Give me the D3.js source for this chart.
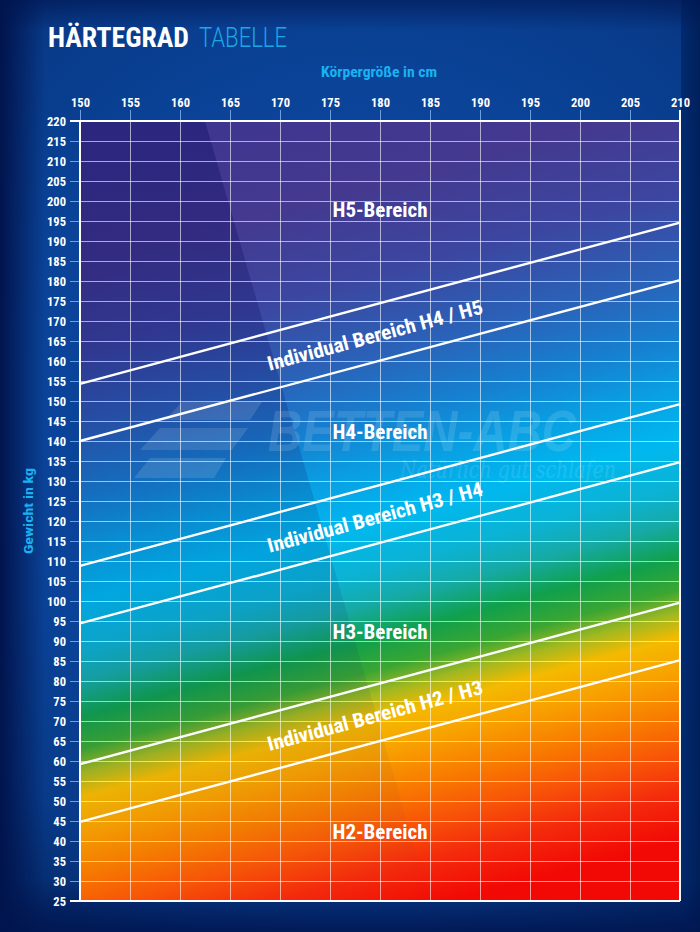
<!DOCTYPE html>
<html><head><meta charset="utf-8">
<script src="https://cdn.jsdelivr.net/npm/d3@7"></script>
<style>html,body{margin:0;padding:0;background:#06307a;} svg{display:block}</style>
</head><body><div id="chart"></div>
<script>
// ---------- data ----------
const heightTicks = [150, 155, 160, 165, 170, 175, 180, 185, 190, 195, 200, 205, 210];
const weightTicks = [25, 30, 35, 40, 45, 50, 55, 60, 65, 70, 75, 80, 85, 90, 95, 100, 105, 110, 115, 120,
                     125, 130, 135, 140, 145, 150, 155, 160, 165, 170, 175, 180, 185, 190, 195, 200, 205, 210, 215, 220];
const boundaryHeights = [150, 210];
const boundaryAt150 = [154.3, 140.0, 108.8, 94.4, 59.2, 44.8];
const boundaryAt210 = [194.6, 180.2, 149.2, 134.7, 99.6, 85.2];
const regionNames = ["H5-Bereich", "H4-Bereich", "H3-Bereich", "H2-Bereich"];
const regionLabelWeight = [196, 140.5, 90.5, 40.5];
const regionLabelHeight = 180;
const individualNames = ["Individual Bereich H4 / H5", "Individual Bereich H3 / H4", "Individual Bereich H2 / H3"];
const individualPairs = [[0, 1], [2, 3], [4, 5]];
const titleBold = "HÄRTEGRAD";
const titleLight = "TABELLE";
const xTitle = "Körpergröße in cm";
const yTitle = "Gewicht in kg";

// ---------- setup ----------
const W = 700, H = 932;
const COND = "'Liberation Sans Narrow','Arial Narrow','Roboto Condensed','Liberation Sans',sans-serif";
const svg = d3.select("#chart").append("svg").attr("width", W).attr("height", H);
const defs = svg.append("defs");

const x = d3.scaleLinear().domain([150, 210]).range([80, 680]);
const y = d3.scaleLinear().domain([25, 220]).range([901, 121]);

// page background
const bg = defs.append("radialGradient").attr("id", "bg")
  .attr("gradientUnits", "userSpaceOnUse").attr("cx", 360).attr("cy", 420).attr("r", 620);
[[0, "#0c4aa2"], [0.55, "#0a4398"], [0.8, "#083a88"], [1, "#03235f"]].forEach(s =>
  bg.append("stop").attr("offset", s[0]).attr("stop-color", s[1]));
svg.append("rect").attr("width", W).attr("height", H).attr("fill", "url(#bg)");

const lEdge = defs.append("linearGradient").attr("id", "lEdge").attr("x1", 0).attr("x2", 1);
lEdge.append("stop").attr("offset", 0).attr("stop-color", "#00124a").attr("stop-opacity", 0.95);
lEdge.append("stop").attr("offset", 1).attr("stop-color", "#00124a").attr("stop-opacity", 0);
svg.append("rect").attr("x", 0).attr("y", 0).attr("width", 45).attr("height", H).attr("fill", "url(#lEdge)");

const rEdge = defs.append("linearGradient").attr("id", "rEdge").attr("x1", 0).attr("x2", 1);
rEdge.append("stop").attr("offset", 0).attr("stop-color", "#00296c");
rEdge.append("stop").attr("offset", 1).attr("stop-color", "#001d55");
svg.append("rect").attr("x", 681).attr("y", 0).attr("width", 19).attr("height", H).attr("fill", "url(#rEdge)").attr("opacity", 0.9);

const bEdge = defs.append("linearGradient").attr("id", "bEdge").attr("x1", 0).attr("x2", 0).attr("y1", 0).attr("y2", 1);
bEdge.append("stop").attr("offset", 0).attr("stop-color", "#001550").attr("stop-opacity", 0);
bEdge.append("stop").attr("offset", 1).attr("stop-color", "#001550").attr("stop-opacity", 0.85);
svg.append("rect").attr("x", 0).attr("y", 880).attr("width", W).attr("height", 52).attr("fill", "url(#bEdge)");

const tEdge = defs.append("linearGradient").attr("id", "tEdge").attr("x1", 0).attr("x2", 0).attr("y1", 0).attr("y2", 1);
tEdge.append("stop").attr("offset", 0).attr("stop-color", "#001550").attr("stop-opacity", 0.6);
tEdge.append("stop").attr("offset", 1).attr("stop-color", "#001550").attr("stop-opacity", 0);
svg.append("rect").attr("x", 0).attr("y", 0).attr("width", W).attr("height", 30).attr("fill", "url(#tEdge)");

// ---------- plot gradient (bands parallel to boundaries) ----------
const ux = x(210) - x(150), uy = y(60) - y(20);
const ul = Math.hypot(ux, uy);
const nx = -uy / ul, ny = ux / ul;
const cx0 = x(regionLabelHeight), cy0 = y(122.5), L = 1100;
const plotGrad = defs.append("linearGradient").attr("id", "plotGrad").attr("gradientUnits", "userSpaceOnUse")
  .attr("x1", cx0 - nx * L / 2).attr("y1", cy0 - ny * L / 2)
  .attr("x2", cx0 + nx * L / 2).attr("y2", cy0 + ny * L / 2);
const bandStops = [
  [228, "#3f3690"], [205, "#44398f"], [182, "#3c46a0"], [162, "#2a62b8"], [146, "#1680d0"],
  [132, "#08a2e4"], [120, "#00b8ef"], [108, "#0cb2d2"], [100, "#16aaa6"], [91, "#10a04c"],
  [83, "#3aa632"], [77, "#a2b820"], [71, "#f4ba00"], [62, "#f8a000"], [52, "#f87c00"],
  [42, "#f85408"], [32, "#f42a0c"], [20, "#f20804"]];
bandStops.forEach(s => {
  const t = 0.5 + (y(s[0]) - cy0) * ny / L;
  plotGrad.append("stop").attr("offset", t).attr("stop-color", s[1]);
});
const plot = svg.append("g");
plot.append("rect").attr("x", x(150)).attr("y", y(220)).attr("width", x(210) - x(150)).attr("height", y(25) - y(220))
  .attr("fill", "url(#plotGrad)");

// diagonal shade on the left
const shade = defs.append("linearGradient").attr("id", "shade").attr("x1", 0).attr("x2", 0).attr("y1", 0).attr("y2", 1);
shade.append("stop").attr("offset", 0).attr("stop-color", "#0c0c60").attr("stop-opacity", 0.38);
shade.append("stop").attr("offset", 0.55).attr("stop-color", "#0c0c60").attr("stop-opacity", 0.12);
shade.append("stop").attr("offset", 1).attr("stop-color", "#0c0c60").attr("stop-opacity", 0.0);
plot.append("path").attr("fill", "url(#shade)")
  .attr("d", `M${x(150)},${y(220)} L${x(162.5)},${y(220)} L${x(185)},${y(25)} L${x(150)},${y(25)} Z`);

// watermark
const wm = plot.append("g").attr("fill", "#ffffff").attr("opacity", 0.12);
wm.append("path").attr("d", "M182,402 L262,402 L250,420 L165,420 Z M160,428 L248,428 L232,450 L140,450 Z M150,458 L226,458 L214,478 L134,478 Z");
wm.append("text").attr("x", 268).attr("y", 451).attr("font-family", "'Liberation Sans','Roboto',sans-serif")
  .attr("font-weight", 900).attr("font-style", "italic").attr("font-size", 58)
  .attr("textLength", 308).attr("lengthAdjust", "spacingAndGlyphs").text("BETTEN-ABC");
wm.append("text").attr("x", 400).attr("y", 478).attr("font-family", "'DejaVu Serif','Liberation Serif',serif")
  .attr("font-style", "italic").attr("font-size", 24).attr("opacity", 0.9)
  .attr("textLength", 216).attr("lengthAdjust", "spacingAndGlyphs").text("Natürlich gut schlafen");

// grid
const grid = plot.append("g").attr("stroke", "#ffffff").attr("stroke-opacity", 0.6).attr("stroke-width", 1)
  .attr("shape-rendering", "crispEdges");
grid.selectAll("line.v").data(heightTicks.slice(1, -1)).join("line").attr("class", "v")
  .attr("x1", d => x(d)).attr("x2", d => x(d)).attr("y1", y(220)).attr("y2", y(25));
grid.selectAll("line.h").data(weightTicks.slice(1, -1)).join("line").attr("class", "h")
  .attr("x1", x(150)).attr("x2", x(210)).attr("y1", d => y(d)).attr("y2", d => y(d));

// boundary lines
const lineGen = d3.line().x(d => x(d[0])).y(d => y(d[1]));
plot.selectAll("path.b").data(boundaryAt150.map((v, i) => [[boundaryHeights[0], v], [boundaryHeights[1], boundaryAt210[i]]]))
  .join("path").attr("class", "b").attr("d", lineGen)
  .attr("fill", "none").attr("stroke", "#ffffff").attr("stroke-width", 2.4);

const valAt = (i, h) => boundaryAt150[i] + (boundaryAt210[i] - boundaryAt150[i]) * (h - 150) / 60;

// region labels
plot.selectAll("text.reg").data(regionNames).join("text").attr("class", "reg")
  .attr("x", x(regionLabelHeight)).attr("y", (d, i) => y(regionLabelWeight[i]))
  .attr("text-anchor", "middle").attr("fill", "#ffffff")
  .attr("font-family", COND).attr("font-weight", "bold").attr("font-size", 20)
  .attr("textLength", 95).attr("lengthAdjust", "spacingAndGlyphs").text(d => d);

// individual labels
const ang = Math.atan2(y(valAt(0, 210)) - y(valAt(0, 150)), x(210) - x(150)) * 180 / Math.PI;
plot.selectAll("text.ind").data(individualNames).join("text").attr("class", "ind")
  .attr("transform", (d, i) => {
    const p = individualPairs[i];
    const h = 179.5;
    const cy = (y(valAt(p[0], h)) + y(valAt(p[1], h))) / 2 + 2;
    return `translate(${x(h)},${cy}) rotate(${ang})`;
  })
  .attr("text-anchor", "middle").attr("dominant-baseline", "central").attr("fill", "#ffffff")
  .attr("font-family", COND).attr("font-weight", "bold").attr("font-size", 20)
  .attr("textLength", 222).attr("lengthAdjust", "spacingAndGlyphs").text(d => d);

// axes
const topAxis = svg.append("g").attr("transform", `translate(0,${y(220)})`)
  .call(d3.axisTop(x).tickValues(heightTicks).tickSize(11).tickPadding(3).tickFormat(d3.format("d")));
const leftAxis = svg.append("g").attr("transform", `translate(${x(150)},0)`)
  .call(d3.axisLeft(y).tickValues(weightTicks).tickSize(10).tickPadding(4).tickFormat(d3.format("d")));
[topAxis, leftAxis].forEach(a => {
  a.select(".domain").remove();
  a.selectAll(".tick line").attr("stroke", "#6d9fe2").attr("stroke-width", 1).attr("shape-rendering", "crispEdges");
  a.selectAll(".tick text").attr("fill", "#ffffff").attr("font-family", COND).attr("font-weight", "bold").attr("font-size", 12.5);
});

// frame
const frame = svg.append("g").attr("stroke", "#ffffff").attr("stroke-width", 1.3).attr("shape-rendering", "crispEdges");
frame.append("line").attr("x1", x(150) - 10).attr("x2", x(210)).attr("y1", y(220)).attr("y2", y(220));
frame.append("line").attr("x1", x(150) - 10).attr("x2", x(210)).attr("y1", y(25)).attr("y2", y(25));
frame.append("line").attr("x1", x(150)).attr("x2", x(150)).attr("y1", y(220)).attr("y2", y(25));
frame.append("line").attr("x1", x(210)).attr("x2", x(210)).attr("y1", y(220) - 11).attr("y2", y(25));

// titles
svg.append("text").attr("x", 48).attr("y", 47).attr("fill", "#ffffff")
  .attr("font-family", COND).attr("font-weight", "bold").attr("font-size", 28)
  .attr("textLength", 141).attr("lengthAdjust", "spacingAndGlyphs").text(titleBold);
svg.append("text").attr("x", 199).attr("y", 47).attr("fill", "#1aa8e6")
  .attr("font-family", "Roboto,'Liberation Sans',sans-serif").attr("font-weight", 300).attr("font-size", 28)
  .attr("textLength", 88).attr("lengthAdjust", "spacingAndGlyphs").text(titleLight);

svg.append("text").attr("x", 379).attr("y", 77).attr("text-anchor", "middle").attr("fill", "#1ab2f0")
  .attr("font-family", COND).attr("font-weight", "bold").attr("font-size", 14.5)
  .attr("textLength", 116).attr("lengthAdjust", "spacingAndGlyphs").text(xTitle);
svg.append("text").attr("transform", "translate(33,511) rotate(-90)").attr("text-anchor", "middle").attr("fill", "#1ab2f0")
  .attr("font-family", COND).attr("font-weight", "bold").attr("font-size", 13.5)
  .attr("textLength", 86).attr("lengthAdjust", "spacingAndGlyphs").text(yTitle);
</script></body></html>
